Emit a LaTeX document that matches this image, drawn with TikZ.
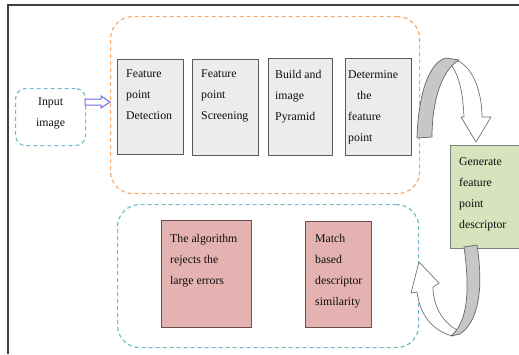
\documentclass[tikz,border=0pt]{standalone}
\usepackage{fontspec}
\setmainfont{Liberation Serif}
\definecolor{pinkfill}{RGB}{229,178,178}
\definecolor{pinkdraw}{RGB}{110,80,80}
\definecolor{greenfill}{RGB}{214,227,188}
\definecolor{grayfill}{RGB}{236,236,236}
\definecolor{orgline}{RGB}{244,170,110}
\definecolor{blueline}{RGB}{110,190,200}
\definecolor{arrowblue}{RGB}{110,110,240}
\begin{document}
\begin{tikzpicture}[x=1pt,y=-1pt,
  txt/.style={font=\fontsize{11.8}{21}\selectfont, align=left, inner sep=0pt, anchor=north west, text=black!95},
  graybox/.style={draw=black!65, line width=1pt, fill=grayfill, anchor=north west},
  pinkbox/.style={draw=pinkdraw, line width=1pt, fill=pinkfill, anchor=north west},
  greenbox/.style={draw=black!50, line width=1pt, fill=greenfill, anchor=north west},
  orgdash/.style={draw=orgline, line width=1.2pt, dash pattern=on 4pt off 3pt},
  bluedash/.style={draw=blueline, line width=1.2pt, dash pattern=on 4pt off 3pt},
  band/.style={fill=black!22, draw=black!60, line width=0.7pt, line join=round},
  hollow/.style={fill=white, draw=black!55, line width=0.7pt, line join=round}]
\useasboundingbox (0,0) rectangle (519,354);
% frame
\draw[black!75, line width=2pt] (8,354) -- (8,5) -- (519,5);
% containers
\node[orgdash, rounded corners=22pt, minimum width=309pt, minimum height=177pt, anchor=north west] (org) at (110,16) {};
\node[bluedash, rounded corners=22pt, minimum width=301pt, minimum height=143pt, anchor=north west] (blu) at (117,204) {};
\node[bluedash, rounded corners=10pt, minimum width=70pt, minimum height=57pt, anchor=north west] (inp) at (15,88) {};
\node[font=\fontsize{11.8}{21}\selectfont, align=center, inner sep=0pt, text=black!95] at ([yshift=4pt]inp.center) {Input\\image};
% input arrow
\draw[draw=arrowblue, fill=white, line width=1pt, line join=miter]
  ([xshift=-1pt]inp.east |- 0,99) -- (101,99) -- (101,96) -- (org.west |- 0,102) -- (101,108) -- (101,105)
  -- ([xshift=-1pt]inp.east |- 0,105) -- cycle;
% gray boxes
\node[graybox, minimum width=66pt, minimum height=95pt] (b1) at (117,59) {};
\node[graybox, minimum width=66pt, minimum height=96pt] (b2) at (192,59) {};
\node[graybox, minimum width=64pt, minimum height=97pt] (b3) at (268,58) {};
\node[graybox, minimum width=66pt, minimum height=97pt] (b4) at (345,58) {};
\node[txt] at ([xshift=9pt,yshift=-11pt]b1.north west) {Feature\\point\\Detection};
\node[txt] at ([xshift=9pt,yshift=-11pt]b2.north west) {Feature\\point\\Screening};
\node[txt] at ([xshift=7pt,yshift=-12pt]b3.north west) {Build and\\image\\Pyramid};
\node[txt] at ([xshift=3pt,yshift=-12pt]b4.north west) {Determine\\\hspace*{9pt}the\\feature\\point};
% pink boxes
\node[pinkbox, minimum width=90pt, minimum height=107pt] (p1) at (161,220) {};
\node[pinkbox, minimum width=66pt, minimum height=106pt] (p2) at (305,221) {};
\node[txt] at ([xshift=9pt,yshift=-14pt]p1.north west) {The algorithm\\rejects the\\large errors};
\node[txt] at ([xshift=10pt,yshift=-13pt]p2.north west) {Match\\based\\descriptor\\similarity};
% green box
\node[greenbox, minimum width=75pt, minimum height=103pt] (g) at (450,145) {};
\node[txt] at ([xshift=9pt,yshift=-12pt]g.north west) {Generate\\feature\\point\\descriptor};
% top curved arrow
\draw[hollow] (450,59) .. controls (470,60) and (482,88) .. (482,117) -- (491,117) -- (476,142) -- (461,117) -- (464,117)
  .. controls (463,95) and (460,78) .. (452,66) -- cycle;
\draw[band] (417,138) .. controls (418,98) and (428,62) .. (446,58) -- (459,60)
  .. controls (442,70) and (432,100) .. (432,137) -- cycle;
% bottom curved arrow
\draw[hollow] (457,330) .. controls (442,322) and (433,305) .. (433,287) -- (439,283) -- (419,262) -- (411,293) -- (417,292)
  .. controls (420,315) and (432,330) .. (452,336) -- cycle;
\draw[band] (464,247) -- (477,245) .. controls (484,290) and (478,322) .. (460,334) -- (451,336)
  .. controls (468,322) and (470,290) .. (464,247) -- cycle;
\end{tikzpicture}
\end{document}
